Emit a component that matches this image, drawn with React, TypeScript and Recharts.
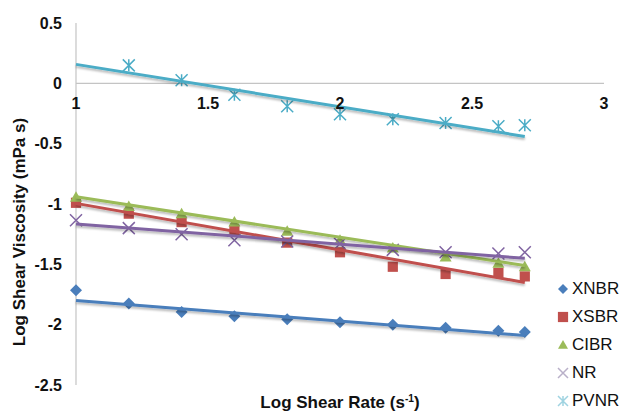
import { ScatterChart, Scatter, XAxis, YAxis, ReferenceLine, ReferenceDot } from 'recharts';

// shear rate (log) for the measured points
const shearRate = [1.0, 1.2, 1.4, 1.6, 1.8, 2.0, 2.2, 2.4, 2.6, 2.7];
const pvnrRate = [1.2, 1.4, 1.6, 1.8, 2.0, 2.2, 2.4, 2.6, 2.7];

// log viscosity per rubber
const xnbr = [-1.715, -1.825, -1.895, -1.93, -1.955, -1.98, -2.0, -2.025, -2.05, -2.06];
const xsbr = [-0.99, -1.08, -1.15, -1.22, -1.32, -1.4, -1.52, -1.58, -1.57, -1.6];
const cibr = [-0.945, -1.02, -1.08, -1.15, -1.225, -1.3, -1.365, -1.44, -1.49, -1.52];
const nr = [-1.135, -1.2, -1.25, -1.3, -1.31, -1.33, -1.38, -1.4, -1.41, -1.4];
const pvnr = [0.149, 0.025, -0.094, -0.19, -0.257, -0.298, -0.329, -0.356, -0.348];

// trendline ends
const trendRate = [1.0, 2.7];
const xnbrTrend = [-1.8, -2.09];
const xsbrTrend = [-0.995, -1.65];
const cibrTrend = [-0.94, -1.51];
const nrTrend = [-1.165, -1.45];
const pvnrTrend = [0.157, -0.44];

const xTicks = [1, 1.5, 2, 2.5, 3];
const yTicks = [-2.5, -2, -1.5, -1, -0.5, 0, 0.5];

const font = '"Liberation Sans", Arial, sans-serif';

const toPoints = (xs: number[], ys: number[]) => xs.map((x, i) => ({ x, y: ys[i] }));

type Kind = 'diamond' | 'square' | 'triangle' | 'x' | 'star';

const series: { name: string; color: string; kind: Kind; points: { x: number; y: number }[]; trend: { x: number; y: number }[] }[] = [
  { name: 'XNBR', color: '#4a7ebb', kind: 'diamond', points: toPoints(shearRate, xnbr), trend: toPoints(trendRate, xnbrTrend) },
  { name: 'XSBR', color: '#c0504d', kind: 'square', points: toPoints(shearRate, xsbr), trend: toPoints(trendRate, xsbrTrend) },
  { name: 'CIBR', color: '#9bbb59', kind: 'triangle', points: toPoints(shearRate, cibr), trend: toPoints(trendRate, cibrTrend) },
  { name: 'NR', color: '#8064a2', kind: 'x', points: toPoints(shearRate, nr), trend: toPoints(trendRate, nrTrend) },
  { name: 'PVNR', color: '#4bacc6', kind: 'star', points: toPoints(pvnrRate, pvnr), trend: toPoints(trendRate, pvnrTrend) },
];

const Marker = ({ cx, cy, kind, color, s = 6 }: { cx: number; cy: number; kind: Kind; color: string; s?: number }) => {
  if (kind === 'diamond')
    return <polygon points={`${cx},${cy - s} ${cx + s},${cy} ${cx},${cy + s} ${cx - s},${cy}`} fill={color} />;
  if (kind === 'square')
    return <rect x={cx - s * 0.85} y={cy - s * 0.85} width={s * 1.7} height={s * 1.7} fill={color} />;
  if (kind === 'triangle')
    return <polygon points={`${cx},${cy - s} ${cx + s},${cy + s * 0.75} ${cx - s},${cy + s * 0.75}`} fill={color} />;
  const d = `M${cx - s},${cy - s}L${cx + s},${cy + s}M${cx + s},${cy - s}L${cx - s},${cy + s}`;
  if (kind === 'x') return <path d={d} stroke={color} strokeWidth={1.5} fill="none" />;
  return <path d={`${d}M${cx},${cy - s}L${cx},${cy + s}`} stroke={color} strokeWidth={1.5} fill="none" />;
};

// legend drawn as an overlay so it doesn't eat into the plot area
const ChartLegend = () => (
  <div style={{ position: 'absolute', left: 556, top: 275, fontFamily: font, fontSize: 17, color: '#111' }}>
    {series.map((s) => (
      <div key={s.name} style={{ height: 28, display: 'flex', alignItems: 'center' }}>
        <svg width={14} height={14} style={{ marginRight: 2 }}>
          <Marker
            cx={7}
            cy={7}
            kind={s.kind}
            color={s.kind === 'x' ? '#b9b0c9' : s.kind === 'star' ? '#9fd3e1' : s.color}
            s={s.kind === 'square' ? 6 : 5}
          />
        </svg>
        <span>{s.name}</span>
      </div>
    ))}
  </div>
);

const App = () => {
  return (
    <div style={{ position: 'absolute', left: 0, top: 0, width: 622, height: 412, background: '#fff', fontFamily: font }}>
      <svg width={0} height={0} style={{ position: 'absolute' }}>
        <defs>
          <filter id="trendShadow" x="-5%" y="-50%" width="110%" height="200%">
            <feDropShadow dx="0" dy="2" stdDeviation="1.3" floodColor="#000" floodOpacity="0.28" />
          </filter>
        </defs>
      </svg>
      <ScatterChart width={622} height={412} margin={{ top: 23, right: 18, bottom: 27, left: 6 }}>
        <XAxis type="number" dataKey="x" domain={[1, 3]} ticks={xTicks} hide />
        <YAxis
          type="number"
          dataKey="y"
          domain={[-2.5, 0.5]}
          ticks={yTicks}
          width={70}
          tickLine={false}
          tickSize={0}
          tickMargin={14}
          axisLine={{ stroke: '#c4c4c4', strokeWidth: 1.2 }}
          tick={{ fill: '#111', fontSize: 16, fontWeight: 'bold', fontFamily: font }}
        />
        <ReferenceLine y={0} stroke="#c4c4c4" strokeWidth={1.2} />
        {xTicks.map((t) => (
          <ReferenceDot
            key={t}
            x={t}
            y={0}
            r={0}
            fill="none"
            stroke="none"
            label={{ value: String(t), position: 'bottom', offset: 14, fill: '#111', fontSize: 16, fontWeight: 'bold', fontFamily: font }}
          />
        ))}
        {series.map((s) => (
          <Scatter
            key={s.name}
            name={s.name}
            data={s.points}
            fill={s.color}
            isAnimationActive={false}
            shape={(p: any) => <Marker cx={p.cx} cy={p.cy} kind={s.kind} color={s.color} />}
          />
        ))}
        {series.map((s) => (
          <Scatter
            key={s.name + '-trend'}
            data={s.trend}
            fill={s.color}
            legendType="none"
            isAnimationActive={false}
            line={{ stroke: s.color, strokeWidth: 3, filter: 'url(#trendShadow)' }}
            shape={() => <g />}
          />
        ))}
      </ScatterChart>
      <ChartLegend />
      <div
        style={{
          position: 'absolute',
          left: 20,
          top: 232,
          transform: 'translate(-50%, -50%) rotate(-90deg)',
          whiteSpace: 'nowrap',
          fontSize: 17,
          fontWeight: 'bold',
          color: '#111',
        }}
      >
        Log Shear Viscosity (mPa s)
      </div>
      <div
        style={{
          position: 'absolute',
          left: 340,
          top: 403,
          transform: 'translate(-50%, -50%)',
          whiteSpace: 'nowrap',
          fontSize: 17,
          fontWeight: 'bold',
          color: '#111',
        }}
      >
        Log Shear Rate (s<sup style={{ fontSize: '0.6em' }}>-1</sup>)
      </div>
    </div>
  );
};

export default App;
